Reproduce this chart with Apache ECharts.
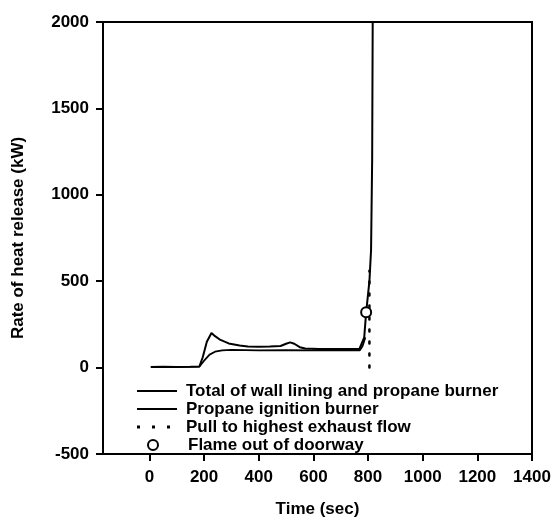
<!DOCTYPE html>
<html>
<head>
<meta charset="utf-8">
<script src="https://cdn.jsdelivr.net/npm/echarts@6/dist/echarts.min.js"></script>
<style>
  html, body { margin: 0; padding: 0; background: #fff; }
  #chart { width: 556px; height: 523px; }
</style>
</head>
<body>
<div id="chart"></div>
<script>
// 数据
var xTicks = [0, 200, 400, 600, 800, 1000, 1200, 1400];

var totalTime = [5, 50, 100, 150, 183, 195, 210, 227, 240, 260, 290, 330, 360, 400, 440, 480, 500, 515, 530, 550, 570, 620, 700, 768, 786, 793, 805, 811, 815, 817];
var totalHrr = [4, 5, 4, 5, 7, 60, 150, 200, 182, 160, 140, 128, 122, 120, 122, 125, 138, 146, 138, 118, 110, 108, 108, 107, 175, 320, 500, 680, 1200, 2000];

var burnerTime = [5, 100, 183, 200, 220, 240, 266, 300, 400, 500, 600, 700, 770, 780, 790];
var burnerHrr = [4, 4, 6, 40, 75, 92, 100, 102, 100, 101, 100, 100, 100, 125, 175];

var pullTime = [805, 805];
var pullHrr = [0, 560];

var flameTime = [793];
var flameHrr = [320];

var names = [
    'Total of wall lining and propane burner',
    'Propane ignition burner',
    'Pull to highest exhaust flow',
    'Flame out of doorway'
];

function zip(a, b) {
    return a.map(function(v, i) { return [v, b[i]]; });
}

var font = 'Liberation Sans, Arial, sans-serif';
var txt = { fontFamily: font, fontSize: 17, fontWeight: 'bold', color: '#000' };

// 图例：每行一个
function legendRow(name, left, top, icon, w, h, pad, style) {
    return {
        data: [name], left: left, top: top,
        icon: icon, itemWidth: w, itemHeight: h,
        itemStyle: style,
        textStyle: { fontFamily: font, fontSize: 17, fontWeight: 'bold', color: '#000', lineHeight: 18, padding: [0, 0, 0, pad] },
        selectedMode: false
    };
}

var myChart = echarts.init(document.getElementById('chart'));
var option = {
    animation: false,
    grid: {
        left: 103, right: 24, top: 22, bottom: 64,
        show: true, borderColor: '#000', borderWidth: 2
    },
    legend: [
        legendRow(names[0], 132, 377, 'rect', 40, 2, 4, { color: '#000', borderWidth: 0 }),
        legendRow(names[1], 132, 395, 'rect', 40, 2, 4, { color: '#000', borderWidth: 0 }),
        legendRow(names[2], 132, 413, 'path://M0,0h3v3h-3z M15,0h3v3h-3z M30,0h3v3h-3z', 33, 3, 11, { color: '#000', borderWidth: 0 }),
        legendRow(names[3], 142, 431, 'circle', 10, 10, 25, { color: '#fff', borderColor: '#000', borderWidth: 2 })
    ],
    xAxis: {
        type: 'value', min: -170, max: 1400,
        name: 'Time (sec)', nameLocation: 'middle', nameGap: 47,
        nameTextStyle: txt,
        axisLine: { onZero: false, lineStyle: { color: '#000', width: 2 } },
        axisTick: { length: 7, lineStyle: { width: 2 }, customValues: xTicks },
        axisLabel: Object.assign({ customValues: xTicks, margin: 15, formatter: function(v) { return String(v); } }, txt),
        splitLine: { show: false }
    },
    yAxis: {
        type: 'value', min: -500, max: 2000, interval: 500,
        name: 'Rate of heat release (kW)', nameLocation: 'middle', nameGap: 76,
        nameTextStyle: txt,
        axisLine: { show: true, onZero: false, lineStyle: { color: '#000', width: 2 } },
        axisTick: { length: 7, lineStyle: { width: 2 } },
        axisLabel: Object.assign({ margin: 14, formatter: function(v) { return String(v); } }, txt),
        splitLine: { show: false }
    },
    series: [{
        name: names[0],
        type: 'line', showSymbol: false, symbol: 'none',
        lineStyle: { color: '#000', width: 2 },
        itemStyle: { color: '#000' },
        data: zip(totalTime, totalHrr)
    }, {
        name: names[1],
        type: 'line', showSymbol: false, symbol: 'none',
        lineStyle: { color: '#000', width: 1.8 },
        itemStyle: { color: '#000' },
        data: zip(burnerTime, burnerHrr)
    }, {
        name: names[2],
        type: 'line', showSymbol: false, symbol: 'none',
        lineStyle: { color: '#000', width: 2.5, type: [2, 10], cap: 'round' },
        itemStyle: { color: '#000' },
        data: zip(pullTime, pullHrr)
    }, {
        name: names[3],
        type: 'scatter', symbol: 'circle', symbolSize: 10,
        itemStyle: { color: '#fff', borderColor: '#000', borderWidth: 2, opacity: 1 },
        z: 5,
        data: zip(flameTime, flameHrr)
    }]
};
myChart.setOption(option);
</script>
</body>
</html>
